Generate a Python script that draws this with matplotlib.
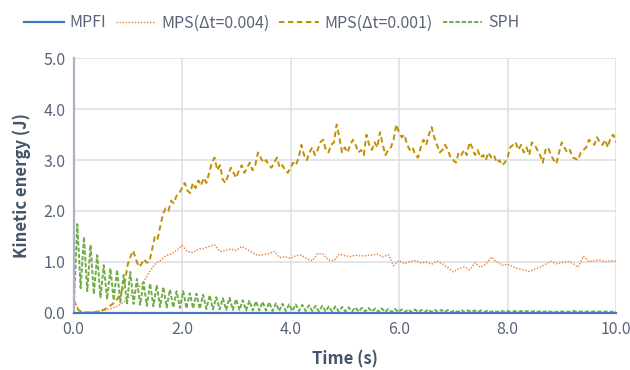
import matplotlib
matplotlib.use('Agg')
import matplotlib.pyplot as plt
import numpy as np

plt.rcParams['font.family'] = ['Noto Sans CJK JP', 'DejaVu Sans']

# MPS dt=0.001, sampled every 0.05 s
mps001 = [
    0.25, 0.12, 0.04, 0.01, 0.0, 0.0, 0.0, 0.01, 0.0, 0.02, 0.03, 0.05, 0.08, 0.12, 0.15, 0.2, 0.26, 0.34, 0.45, 0.62,
    0.95, 1.1, 1.22, 1.05, 0.9, 0.95, 1.05, 0.98, 1.0, 1.25, 1.5, 1.45, 1.7, 1.95, 2.05, 2.0, 2.2, 2.15, 2.3, 2.35,
    2.45, 2.55, 2.4, 2.35, 2.55, 2.45, 2.6, 2.5, 2.65, 2.55, 2.75, 2.95, 3.05, 2.8, 2.9, 2.62, 2.55, 2.7, 2.85, 2.75,
    2.65, 2.8, 2.9, 2.75, 2.85, 2.95, 2.8, 2.9, 3.15, 3.05, 2.95, 3.0, 2.9, 2.85, 2.95, 3.05, 2.85, 2.9, 2.8, 2.75,
    2.85, 2.95, 2.9, 3.05, 3.3, 3.1, 3.0, 3.15, 3.25, 3.1, 3.2, 3.35, 3.4, 3.2, 3.15, 3.3, 3.35, 3.7, 3.45, 3.15,
    3.25, 3.15, 3.3, 3.4, 3.3, 3.15, 3.2, 3.1, 3.5, 3.3, 3.2, 3.35, 3.25, 3.55, 3.3, 3.1, 3.2, 3.25, 3.4, 3.7,
    3.55, 3.45, 3.5, 3.3, 3.2, 3.25, 3.1, 3.05, 3.25, 3.4, 3.3, 3.5, 3.65, 3.45, 3.3, 3.15, 3.2, 3.3, 3.2, 3.05,
    3.0, 2.95, 3.15, 3.1, 3.2, 3.1, 3.35, 3.25, 3.1, 3.2, 3.05, 3.1, 3.0, 3.15, 3.05, 3.1, 2.95, 3.0, 2.9, 2.95,
    3.05, 3.25, 3.3, 3.35, 3.2, 3.3, 3.15, 3.25, 3.1, 3.35, 3.3, 3.2, 3.1, 2.95, 3.2, 3.25, 3.1, 3.0, 2.93, 3.15,
    3.35, 3.25, 3.15, 3.2, 3.05, 3.03, 3.0, 3.15, 3.2, 3.25, 3.4, 3.35, 3.3, 3.45, 3.35, 3.3, 3.4, 3.25, 3.45, 3.5,
    3.35,
]

# MPS dt=0.004, sampled every 0.1 s
mps004 = [
    0.28, 0.03, 0.0, 0.01, 0.02, 0.03, 0.05, 0.08, 0.12, 0.18,
    0.28, 0.38, 0.48, 0.62, 0.8, 0.95, 1.02, 1.12, 1.15, 1.22,
    1.32, 1.2, 1.18, 1.25, 1.26, 1.3, 1.33, 1.2, 1.22, 1.25,
    1.22, 1.3, 1.24, 1.18, 1.12, 1.14, 1.16, 1.2, 1.08, 1.1,
    1.06, 1.12, 1.13, 1.05, 1.02, 1.16, 1.15, 1.03, 1.02, 1.15,
    1.12, 1.1, 1.13, 1.11, 1.12, 1.13, 1.15, 1.09, 1.14, 0.92,
    1.02, 0.96, 1.0, 1.02, 0.98, 0.99, 0.95, 1.01, 0.96, 0.88,
    0.8, 0.86, 0.9, 0.84, 0.98, 0.89, 0.95, 1.09, 1.0, 0.93,
    0.95, 0.9, 0.86, 0.84, 0.81, 0.85, 0.89, 0.95, 1.01, 0.96,
    0.98, 1.01, 0.97, 0.89, 1.11, 1.0, 1.02, 1.03, 1.0, 1.02,
    1.01,
]

# SPH sloshing: successive peaks and troughs of the oscillation
sph_peaks = [
    1.74, 1.49, 1.33, 1.13, 0.93, 0.87, 0.84, 0.74, 0.80, 0.66,
    0.60, 0.57, 0.54, 0.50, 0.45, 0.42, 0.42, 0.38, 0.37, 0.35,
    0.34, 0.30, 0.28, 0.29, 0.26, 0.24, 0.23, 0.22, 0.21, 0.20,
    0.18, 0.17, 0.16, 0.16, 0.15, 0.14, 0.13, 0.13, 0.12, 0.12,
    0.11, 0.10, 0.10, 0.09, 0.09, 0.08, 0.08, 0.07, 0.07, 0.06,
    0.06, 0.06, 0.05, 0.06, 0.05, 0.05, 0.05, 0.04, 0.05, 0.04,
    0.04, 0.04, 0.04, 0.03, 0.04, 0.03, 0.03, 0.03, 0.03, 0.03,
    0.03, 0.03, 0.02, 0.03, 0.02, 0.03, 0.02, 0.02, 0.02, 0.02,
    0.02, 0.02,
]
sph_troughs = [
    0.48, 0.42, 0.36, 0.30, 0.26, 0.24, 0.20, 0.18, 0.17, 0.15,
    0.13, 0.12, 0.11, 0.10, 0.10, 0.09, 0.08, 0.08, 0.07, 0.07,
    0.06, 0.06, 0.05, 0.05, 0.05, 0.04, 0.04, 0.04, 0.04, 0.03,
    0.03, 0.03, 0.03, 0.03, 0.03, 0.03, 0.02, 0.02, 0.02, 0.02,
    0.02, 0.02, 0.02, 0.02, 0.02, 0.01, 0.01, 0.01, 0.01, 0.01,
    0.01, 0.01, 0.01, 0.01, 0.01, 0.01, 0.01, 0.01, 0.01, 0.01,
    0.01, 0.01, 0.01, 0.01, 0.01, 0.01, 0.01, 0.01, 0.01, 0.01,
    0.01, 0.01, 0.01, 0.01, 0.01, 0.01, 0.01, 0.01, 0.01, 0.01,
    0.01, 0.01,
]

mpfi = [0.0, 0.0]
mpfi_t = [0.0, 10.0]

t001 = np.arange(len(mps001)) * 0.05
t004 = np.arange(len(mps004)) * 0.1
sph = [0.0] + [v for pair in zip(sph_peaks, sph_troughs) for v in pair]
t_sph = np.concatenate([[0.0], 0.07 + 0.061 * np.arange(len(sph) - 1)])

fig = plt.figure(figsize=(6.3, 3.7), dpi=100)
ax = fig.add_axes([0.1167, 0.1554, 0.8611, 0.6865])

ax.plot(mpfi_t, mpfi, color='#4472c4', lw=1.6, label='MPFI', zorder=5, clip_on=False)
ax.plot(t004, mps004, color='#ed7d31', lw=1.0, ls=(0, (1, 1.2)), label='MPS(Δt=0.004)')
ax.plot(t001, mps001, color='#c09000', lw=1.4, ls=(0, (2.8, 1.8)), label='MPS(Δt=0.001)')
ax.plot(t_sph, sph, color='#70ad47', lw=1.4, ls=(0, (2.2, 1.0)), label='SPH')

ax.set_xlim(0, 10)
ax.set_ylim(0, 5)
ax.set_xticks(np.arange(0, 10.1, 2))
ax.set_yticks(np.arange(0, 5.1, 1))
ax.xaxis.set_major_formatter(matplotlib.ticker.FormatStrFormatter('%.1f'))
ax.yaxis.set_major_formatter(matplotlib.ticker.FormatStrFormatter('%.1f'))
ax.grid(True, color='#dde1e8', lw=1.2)
ax.set_axisbelow(True)
ax.tick_params(length=0, labelsize=11.5, labelcolor='#5a6478', pad=6)

for s in ['top', 'right', 'bottom']:
    ax.spines[s].set_visible(False)
ax.spines['left'].set_color('#a9b3c6')
ax.spines['left'].set_linewidth(1.6)

ax.set_xlabel('Time (s)', fontsize=12, fontweight='bold', color='#44546a', labelpad=9)
ax.set_ylabel('Kinetic energy (J)', fontsize=12, fontweight='bold', color='#44546a', labelpad=9)

leg = fig.legend(loc='upper left', bbox_to_anchor=(0.015, 1.0), ncol=4, frameon=False,
                 fontsize=11.5, handlelength=2.5, columnspacing=0.6, handletextpad=0.35)
for txt in leg.get_texts():
    txt.set_color('#5a6478')

fig.savefig('out.png', dpi=100)
